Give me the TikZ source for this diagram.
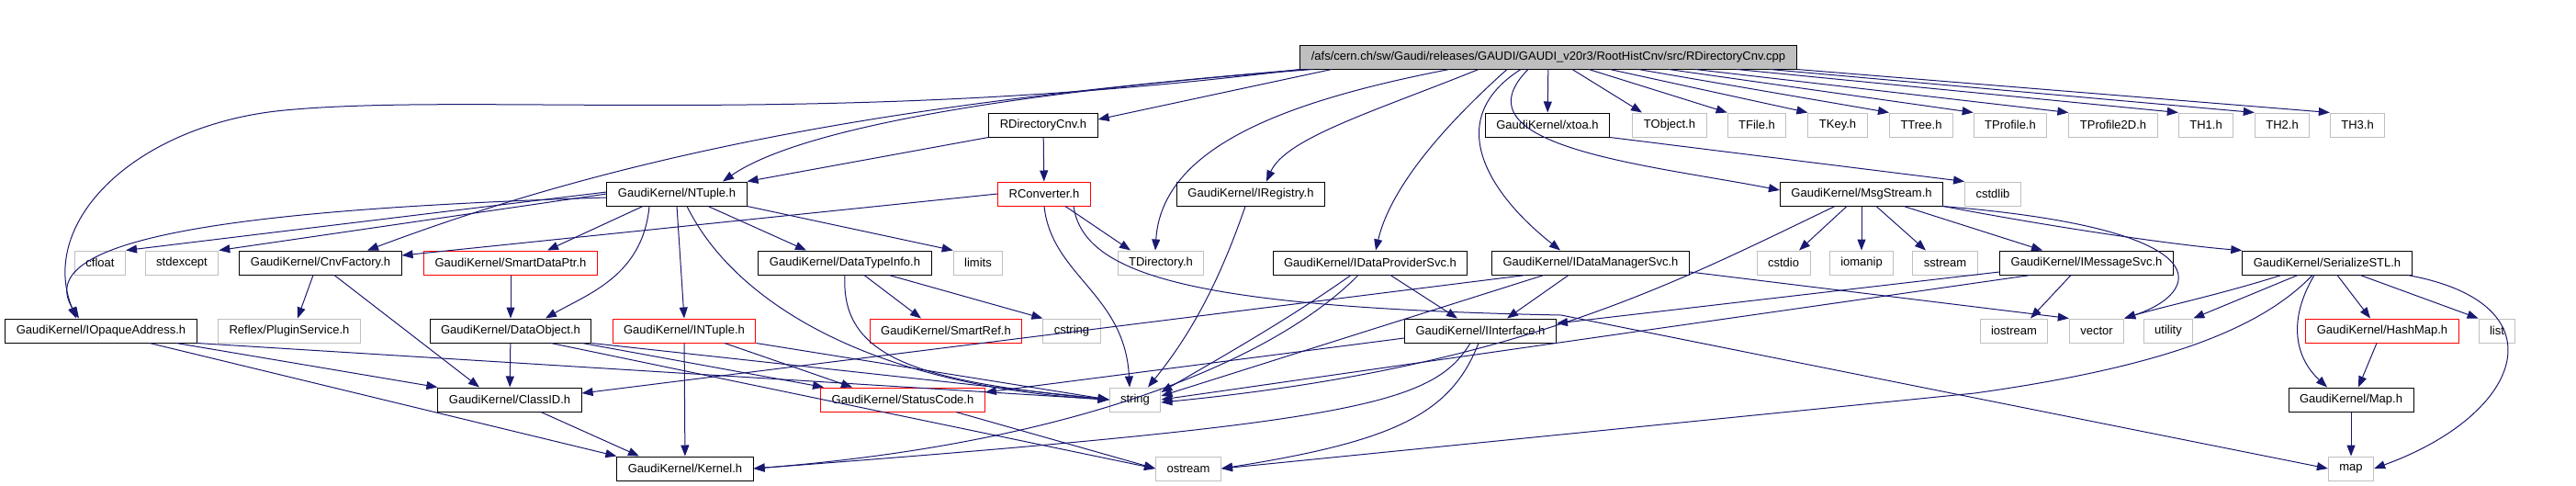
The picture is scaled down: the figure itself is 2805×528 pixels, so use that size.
\documentclass[tikz,border=0pt]{standalone}
\usepackage{fontspec}
\setmainfont{Liberation Sans}
\usetikzlibrary{arrows.meta}
\definecolor{edgeblue}{HTML}{191970}
\definecolor{extgray}{HTML}{BFBFBF}

\begin{document}
\begin{tikzpicture}[x=1pt,y=-1pt,>={Triangle[length=12pt,width=9pt]},
  box/.style={draw,line width=1pt,font=\fontsize{13}{15}\selectfont,inner xsep=12pt,inner ysep=0pt,minimum height=26pt},
  doc/.style={box,draw=black},
  nodoc/.style={box,draw=red},
  ext/.style={box,draw=extgray},
  edge/.style={->,edgeblue,line width=1pt}]
  \useasboundingbox (0,0) rectangle (2805,528);
  \node[doc,fill=extgray] (root) at (1686,62) {/afs/cern.ch/sw/Gaudi/releases/GAUDI/GAUDI\_v20r3/RootHistCnv/src/RDirectoryCnv.cpp};
  \node[doc] (rdircnv) at (1136,136) {RDirectoryCnv.h};
  \node[doc] (xtoa) at (1685,136) {GaudiKernel/xtoa.h};
  \node[ext] (tobject) at (1818,136) {TObject.h};
  \node[ext] (tfile) at (1913,136) {TFile.h};
  \node[ext] (tkey) at (2001,136) {TKey.h};
  \node[ext] (ttree) at (2092,136) {TTree.h};
  \node[ext] (tprofile) at (2189,136) {TProfile.h};
  \node[ext] (tprofiled) at (2301,136) {TProfile2D.h};
  \node[ext] (thone) at (2402,136) {TH1.h};
  \node[ext] (thtwo) at (2485,136) {TH2.h};
  \node[ext] (ththree) at (2567,136) {TH3.h};
  \node[doc] (ntuple) at (737,211) {GaudiKernel/NTuple.h};
  \node[nodoc] (rconverter) at (1137,211) {RConverter.h};
  \node[doc] (iregistry) at (1362,211) {GaudiKernel/IRegistry.h};
  \node[doc] (msgstream) at (2027,211) {GaudiKernel/MsgStream.h};
  \node[ext] (cstdlib) at (2170,211) {cstdlib};
  \node[ext] (cfloat) at (109,286) {cfloat};
  \node[ext] (stdexcept) at (198,286) {stdexcept};
  \node[doc] (cnvfactory) at (349,286) {GaudiKernel/CnvFactory.h};
  \node[nodoc] (smartdataptr) at (556,286) {GaudiKernel/SmartDataPtr.h};
  \node[doc] (datatypeinfo) at (920,286) {GaudiKernel/DataTypeInfo.h};
  \node[ext] (limits) at (1065,286) {limits};
  \node[ext] (tdirectory) at (1264,286) {TDirectory.h};
  \node[doc] (idataprovider) at (1492,286) {GaudiKernel/IDataProviderSvc.h};
  \node[doc] (idatamanager) at (1732,286) {GaudiKernel/IDataManagerSvc.h};
  \node[ext] (cstdio) at (1942,286) {cstdio};
  \node[ext] (iomanip) at (2027,286) {iomanip};
  \node[ext] (sstream) at (2118,286) {sstream};
  \node[doc] (imessagesvc) at (2272,286) {GaudiKernel/IMessageSvc.h};
  \node[doc] (serializestl) at (2534,286) {GaudiKernel/SerializeSTL.h};
  \node[doc] (iopaque) at (110,360) {GaudiKernel/IOpaqueAddress.h};
  \node[ext] (pluginsvc) at (315,360) {Reflex/PluginService.h};
  \node[doc] (dataobject) at (556,360) {GaudiKernel/DataObject.h};
  \node[nodoc] (intuple) at (745,360) {GaudiKernel/INTuple.h};
  \node[nodoc] (smartref) at (1030,360) {GaudiKernel/SmartRef.h};
  \node[ext] (cstring) at (1167,360) {cstring};
  \node[doc] (iinterface) at (1612,360) {GaudiKernel/IInterface.h};
  \node[ext] (iostream) at (2193,360) {iostream};
  \node[ext] (vector) at (2283,360) {vector};
  \node[ext] (utility) at (2361,360) {utility};
  \node[nodoc] (hashmap) at (2594,360) {GaudiKernel/HashMap.h};
  \node[ext] (list) at (2719,360) {list};
  \node[doc] (classid) at (555,435) {GaudiKernel/ClassID.h};
  \node[nodoc] (statuscode) at (983,435) {GaudiKernel/StatusCode.h};
  \node[ext] (string) at (1236,435) {string};
  \node[doc] (maph) at (2560,435) {GaudiKernel/Map.h};
  \node[doc] (kernel) at (746,510) {GaudiKernel/Kernel.h};
  \node[ext] (ostream) at (1294,510) {ostream};
  \node[ext] (map) at (2560,510) {map};

  \draw[edge] (root.south west) .. controls (900,140) and (520,100) .. (310,120) .. controls (150,135) and (40,240) .. ([xshift=-27]iopaque.north);
  \draw[edge] ([xshift=-256]root.south) .. controls (1100,100) and (870,140) .. ([xshift=50]ntuple.north);
  \draw[edge] ([xshift=-266]root.south) .. controls (1000,110) and (700,160) .. ([xshift=51]cnvfactory.north);
  \draw[edge] ([xshift=-236]root.south) -- ([yshift=6]rdircnv.east);
  \draw[edge] ([xshift=-108]root.south) .. controls (1400,110) and (1265,160) .. ([xshift=-6]tdirectory.north);
  \draw[edge] ([xshift=-76]root.south) .. controls (1500,120) and (1400,150) .. ([xshift=17]iregistry.north);
  \draw[edge] ([xshift=-45]root.south) .. controls (1580,130) and (1515,200) .. ([xshift=6]idataprovider.north);
  \draw[edge] ([xshift=-30]root.south) .. controls (1570,130) and (1620,210) .. ([xshift=-33]idatamanager.north);
  \draw[edge] ([xshift=-22]root.south) .. controls (1580,160) and (1800,180) .. ([yshift=4]msgstream.west);
  \draw[edge] (root) -- (xtoa);
  \draw[edge] ([xshift=26]root.south) -- ([xshift=-30]tobject.north);
  \draw[edge] ([xshift=44]root.south) -- (tfile.north west);
  \draw[edge] ([xshift=67]root.south) -- (tkey.north west);
  \draw[edge] ([xshift=98]root.south) -- (ttree.north west);
  \draw[edge] ([xshift=131]root.south) -- (tprofile.north west);
  \draw[edge] ([xshift=160]root.south) -- (tprofiled.north west);
  \draw[edge] ([xshift=205]root.south) -- (thone.north west);
  \draw[edge] ([xshift=241]root.south) -- (thtwo.north west);
  \draw[edge] (root.south east) -- (ththree.north west);

  \draw[edge] (rdircnv.south west) -- (ntuple.north east);
  \draw[edge] (rdircnv) -- (rconverter);
  \draw[edge] (xtoa.south east) -- (cstdlib.north west);

  \draw[edge] (rconverter.west) -- ([yshift=8]cnvfactory.east);
  \draw[edge] (rconverter.south) .. controls (1145,300) and (1225,320) .. ([xshift=-6]string.north);
  \draw[edge] ([xshift=23]rconverter.south) -- ([xshift=-33]tdirectory.north);
  \draw[edge] ([xshift=32]rconverter.south) .. controls (1180,300) and (1300,335) .. (1700,343) -- (map.west);

  \draw[edge] ([yshift=2]ntuple.west) -- (cfloat.north east);
  \draw[edge] (ntuple.west) -- (stdexcept.north east);
  \draw[edge] ([yshift=-4]ntuple.west) .. controls (250,228) and (30,260) .. ([xshift=-24]iopaque.north);
  \draw[edge] ([xshift=-37]ntuple.south) -- ([xshift=40]smartdataptr.north);
  \draw[edge] ([xshift=-30]ntuple.south) .. controls (700,300) and (640,320) .. ([xshift=38]dataobject.north);
  \draw[edge] (ntuple.south) -- (intuple.north);
  \draw[edge] ([xshift=11]ntuple.south) .. controls (800,330) and (950,420) .. (string.west);
  \draw[edge] ([xshift=34]ntuple.south) -- ([xshift=-42]datatypeinfo.north);
  \draw[edge] (ntuple.south east) -- (limits.north west);

  \draw[edge] ([xshift=21]datatypeinfo.south) -- ([xshift=-27]smartref.north);
  \draw[edge] ([xshift=48]datatypeinfo.south) -- (cstring.north west);
  \draw[edge] (datatypeinfo.south) .. controls (915,390) and (1000,415) .. (string.west);

  \draw[edge] (intuple) -- (kernel);
  \draw[edge] ([xshift=44]intuple.south) -- ([xshift=-55]statuscode.north);
  \draw[edge] (intuple.south east) -- (string.west);

  \draw[edge] ([xshift=-8]cnvfactory.south) -- ([xshift=9]pluginsvc.north);
  \draw[edge] ([xshift=15]cnvfactory.south) -- ([xshift=-33]classid.north);
  \draw[edge] (smartdataptr) -- (dataobject);
  \draw[edge] (dataobject) -- (classid);
  \draw[edge] ([xshift=78]dataobject.south) -- ([xshift=-86]statuscode.north);
  \draw[edge] (dataobject.south east) -- (string.west);
  \draw[edge] ([xshift=44]dataobject.south) -- (ostream.west);

  \draw[edge] ([xshift=82]iopaque.south) -- (classid.north west);
  \draw[edge] ([xshift=53]iopaque.south) -- (kernel.north west);
  \draw[edge] (iopaque.south east) -- (string.west);
  \draw[edge] ([xshift=34]classid.south) -- ([xshift=-50]kernel.north);
  \draw[edge] ([xshift=58]statuscode.south) -- (ostream.west);

  \draw[edge] ([xshift=-6]iregistry.south) .. controls (1330,300) and (1300,360) .. ([xshift=14]string.north);

  \draw[edge] ([xshift=22]idataprovider.south) -- ([xshift=-25]iinterface.north);
  \draw[edge] ([xshift=-21]idataprovider.south) .. controls (1400,350) and (1310,400) .. ([yshift=8]string.east);
  \draw[edge] ([xshift=-13]idataprovider.south) .. controls (1400,380) and (1200,480) .. (kernel.east);

  \draw[edge] ([xshift=-24]idatamanager.south) -- ([xshift=29]iinterface.north);
  \draw[edge] ([xshift=-51]idatamanager.south) -- ([yshift=4]string.east);
  \draw[edge] ([xshift=-71]idatamanager.south) -- ([yshift=7]classid.east);
  \draw[edge] ([yshift=-10]idatamanager.east) -- (vector.north west);

  \draw[edge] ([xshift=-17]imessagesvc.south) -- ([xshift=18]iostream.north);
  \draw[edge] ([yshift=-10]imessagesvc.west) -- ([yshift=8]iinterface.east);
  \draw[edge] ([xshift=-61]imessagesvc.south) -- (string.east);

  \draw[edge] ([xshift=-16]msgstream.south) -- ([xshift=17]cstdio.north);
  \draw[edge] (msgstream) -- (iomanip);
  \draw[edge] ([xshift=16]msgstream.south) -- ([xshift=-21]sstream.north);
  \draw[edge] ([xshift=46]msgstream.south) -- ([xshift=-48]imessagesvc.north);
  \draw[edge] (msgstream.south east) .. controls (2250,250) and (2380,268) .. (serializestl.north west);
  \draw[edge] ([xshift=88]msgstream.south) .. controls (2430,250) and (2395,320) .. (vector.north east);
  \draw[edge] ([xshift=-29]msgstream.south) .. controls (1820,310) and (1650,400) .. ([yshift=-3]string.east);

  \draw[edge] ([xshift=-50]serializestl.south) .. controls (2420,320) and (2350,335) .. (vector.north east);
  \draw[edge] ([xshift=-32]serializestl.south) -- (utility.north east);
  \draw[edge] ([xshift=-16]serializestl.south) .. controls (2460,360) and (2350,400) .. (2150,428) -- (ostream.east);
  \draw[edge] ([xshift=-14]serializestl.south) .. controls (2490,350) and (2500,390) .. ([xshift=-26]maph.north);
  \draw[edge] ([xshift=11]serializestl.south) -- ([xshift=-13]hashmap.north);
  \draw[edge] ([xshift=36]serializestl.south) -- (list.north west);
  \draw[edge] ([xshift=-5]serializestl.south east) .. controls (2790,330) and (2750,450) .. (map.east);
  \draw[edge] ([xshift=-6]hashmap.south) -- ([xshift=8]maph.north);
  \draw[edge] (maph) -- (map);

  \draw[edge] ([yshift=-8]iinterface.west) -- ([yshift=8]statuscode.east);
  \draw[edge] ([xshift=-11]iinterface.south) .. controls (1560,440) and (1480,460) .. (kernel.east);
  \draw[edge] ([xshift=-2]iinterface.south) .. controls (1580,450) and (1520,480) .. (ostream.east);
\end{tikzpicture}
\end{document}
